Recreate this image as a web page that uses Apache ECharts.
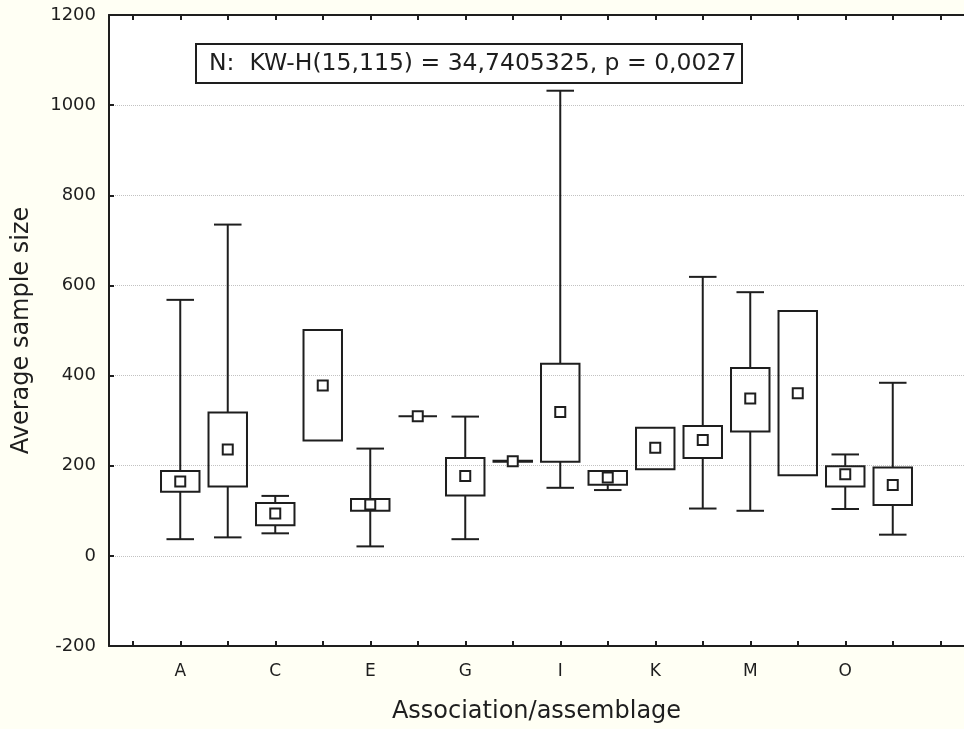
<!DOCTYPE html>
<html>
<head>
<meta charset="utf-8">
<script src="https://cdn.jsdelivr.net/npm/echarts@6/dist/echarts.min.js"></script>
<style>
  html, body { margin: 0; padding: 0; background: #fffff4; }
  #chart { width: 964px; height: 729px; }
</style>
</head>
<body>
<div id="chart"></div>
<script>
  // box plot data: min, 25%, median, 75%, max
  const categories = ['A', 'B', 'C', 'D', 'E', 'F', 'G', 'H', 'I', 'J', 'K', 'L', 'M', 'N', 'O', 'P'];
  const mins    = [37, 41, 50, 256, 21, 310, 37, 209, 151, 146, 192, 105, 100, 179, 104, 47];
  const q1s     = [142, 154, 68, 256, 100, 310, 134, 209, 209, 158, 192, 217, 276, 179, 154, 113];
  const medians = [165, 236, 94, 378, 114, 310, 177, 210, 319, 174, 240, 257, 349, 361, 181, 157];
  const q3s     = [188, 318, 117, 501, 126, 310, 217, 211, 426, 188, 284, 288, 417, 543, 199, 196];
  const maxs    = [568, 735, 133, 501, 238, 310, 309, 211, 1032, 188, 284, 619, 585, 543, 225, 384];
  const yTicks = [-200, 0, 200, 400, 600, 800, 1000, 1200];

  const note = 'N:  KW-H(15,115) = 34,7405325, p = 0,0027';

  // one empty slot on each side, like the original axis
  const axisCats = [''].concat(categories, ['']);
  const boxData = categories.map((c, i) => [i + 1, mins[i], q1s[i], medians[i], q3s[i], maxs[i]]);

  const ink = '#1e1e1e';
  const font = 'DejaVu Sans';

  function renderBox(params, api) {
    const x = api.value(0);
    const band = api.size([1, 0])[0];
    const boxW = band * 0.81;
    const capW = band * 0.58;
    const pMin = api.coord([x, api.value(1)]);
    const pQ1 = api.coord([x, api.value(2)]);
    const pMed = api.coord([x, api.value(3)]);
    const pQ3 = api.coord([x, api.value(4)]);
    const pMax = api.coord([x, api.value(5)]);
    const cx = pMed[0];
    const line = { stroke: ink, lineWidth: 2 };
    const children = [];
    if (pMax[1] < pQ3[1] - 0.5) {
      children.push({ type: 'line', shape: { x1: cx, y1: pMax[1], x2: cx, y2: pQ3[1] }, style: line });
      children.push({ type: 'line', shape: { x1: cx - capW / 2, y1: pMax[1], x2: cx + capW / 2, y2: pMax[1] }, style: line });
    }
    if (pMin[1] > pQ1[1] + 0.5) {
      children.push({ type: 'line', shape: { x1: cx, y1: pQ1[1], x2: cx, y2: pMin[1] }, style: line });
      children.push({ type: 'line', shape: { x1: cx - capW / 2, y1: pMin[1], x2: cx + capW / 2, y2: pMin[1] }, style: line });
    }
    children.push({
      type: 'rect',
      shape: { x: cx - boxW / 2, y: pQ3[1], width: boxW, height: Math.max(pQ1[1] - pQ3[1], 0) },
      style: { fill: 'none', stroke: ink, lineWidth: 2 }
    });
    children.push({
      type: 'rect',
      shape: { x: cx - 5, y: pMed[1] - 5, width: 10, height: 10 },
      style: { fill: '#fff', stroke: ink, lineWidth: 2 }
    });
    return { type: 'group', children };
  }

  const tickStyle = { show: true, inside: true, length: 5, lineStyle: { color: ink, width: 2 } };

  const chart = echarts.init(document.getElementById('chart'));
  chart.setOption({
    backgroundColor: '#fffff4',
    animation: false,
    grid: {
      left: 109, top: 15, width: 863, height: 632,
      show: true, backgroundColor: '#ffffff', borderWidth: 0, z: -1
    },
    xAxis: [
      {
        type: 'category',
        data: axisCats,
        boundaryGap: true,
        name: 'Association/assemblage',
        nameLocation: 'middle',
        nameGap: 54,
        nameTextStyle: { fontFamily: font, fontSize: 24, color: ink },
        axisLine: { onZero: false, lineStyle: { color: ink, width: 2 } },
        axisTick: Object.assign({ interval: 0, alignWithLabel: true }, tickStyle),
        axisLabel: {
          interval: (idx) => idx % 2 === 1,
          margin: 17,
          fontFamily: font, fontSize: 17, color: ink
        },
        splitLine: { show: false }
      },
      {
        type: 'category',
        data: axisCats,
        position: 'top',
        boundaryGap: true,
        axisLine: { onZero: false, lineStyle: { color: ink, width: 2 } },
        axisTick: Object.assign({ interval: 0, alignWithLabel: true }, tickStyle),
        axisLabel: { show: false },
        splitLine: { show: false }
      }
    ],
    yAxis: {
      type: 'value',
      min: yTicks[0],
      max: yTicks[yTicks.length - 1],
      interval: 200,
      name: 'Average sample size',
      nameLocation: 'middle',
      nameGap: 75,
      nameTextStyle: { fontFamily: font, fontSize: 24, color: ink },
      axisLine: { show: true, lineStyle: { color: ink, width: 2 } },
      axisTick: tickStyle,
      axisLabel: {
        margin: 13, fontFamily: font, fontSize: 18, color: ink,
        formatter: (v) => String(v)
      },
      splitLine: { show: true, lineStyle: { type: 'dotted', color: '#c2c2c2', width: 1 } }
    },
    graphic: [
      {
        type: 'group',
        left: 195,
        top: 43,
        children: [
          {
            type: 'rect',
            shape: { x: 0, y: 0, width: 546, height: 39 },
            style: { fill: '#fff', stroke: ink, lineWidth: 2 }
          },
          {
            type: 'text',
            x: 13,
            y: 20,
            style: {
              text: note,
              fontFamily: font,
              fontSize: 23.5,
              fill: ink,
              verticalAlign: 'middle'
            }
          }
        ]
      }
    ],
    series: [
      {
        type: 'custom',
        xAxisIndex: 0,
        renderItem: renderBox,
        encode: { x: 0, y: [1, 2, 3, 4, 5] },
        data: boxData,
        z: 10
      }
    ]
  });
</script>
</body>
</html>
